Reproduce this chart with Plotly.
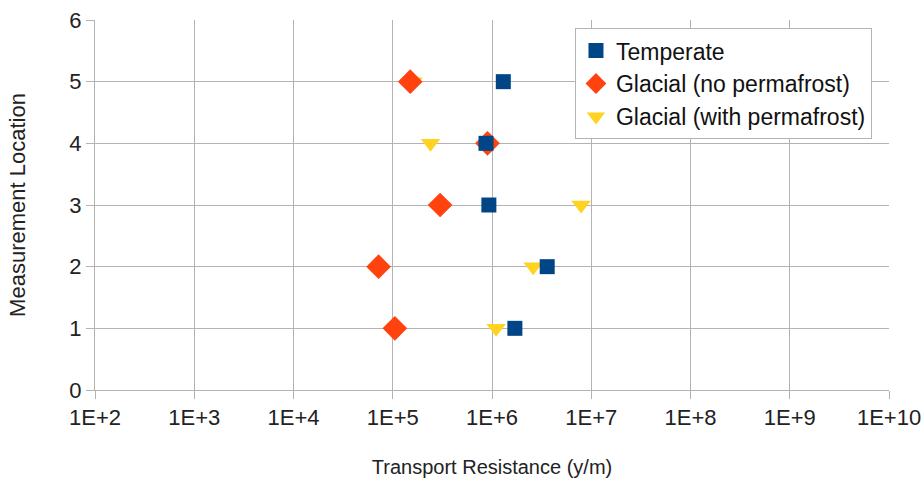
import plotly.graph_objects as go

locations = [1, 2, 3, 4, 5]
temperate = [1.7e6, 3.6e6, 9.3e5, 8.7e5, 1.3e6]
glacial_no_pf = [1.05e5, 7.2e4, 3.0e5, 9.0e5, 1.5e5]
glacial_with_pf = [1.1e6, 2.6e6, 7.9e6, 2.4e5, 1.6e5]
x_tickvals = [1e2, 1e3, 1e4, 1e5, 1e6, 1e7, 1e8, 1e9, 1e10]
x_ticktext = ["1E+2", "1E+3", "1E+4", "1E+5", "1E+6", "1E+7", "1E+8", "1E+9", "1E+10"]

font = "Liberation Sans, Arial, sans-serif"
grid = "#b3b3b3"
txt = "#222222"

fig = go.Figure()
fig.add_trace(go.Scatter(x=glacial_with_pf, y=locations, mode="markers",
                         name="Glacial (with permafrost)",
                         marker=dict(symbol="triangle-down", size=17, color="#ffd320")))
fig.add_trace(go.Scatter(x=glacial_no_pf, y=locations, mode="markers",
                         name="Glacial (no permafrost)",
                         marker=dict(symbol="diamond", size=19, color="#ff420e")))
fig.add_trace(go.Scatter(x=temperate, y=locations, mode="markers",
                         name="Temperate",
                         marker=dict(symbol="square", size=15, color="#004586")))

fig.update_layout(
    width=924, height=484,
    margin=dict(l=95, r=35, t=20, b=94, autoexpand=False),
    paper_bgcolor="white", plot_bgcolor="white",
    font=dict(family=font, size=20, color=txt),
    showlegend=True,
    legend=dict(x=0.6045, y=0.978, xanchor="left", yanchor="top",
                traceorder="reversed",
                bordercolor=grid, borderwidth=1, bgcolor="white",
                font=dict(size=23, color="#111111"),
                itemsizing="trace", itemwidth=30, tracegroupgap=0),
    xaxis=dict(type="log", range=[2, 10], tickvals=x_tickvals, ticktext=x_ticktext,
               tickfont=dict(size=22), automargin=False,
               showgrid=True, gridcolor=grid, gridwidth=1,
               showline=True, linecolor=grid, ticks="outside", ticklen=8, tickcolor=grid,
               zeroline=False,
               title=dict(text="Transport Resistance (y/m)", font=dict(size=20, color=txt),
                          standoff=30)),
    yaxis=dict(range=[0, 6], dtick=1, tick0=0,
               tickfont=dict(size=22), automargin=False,
               showgrid=True, gridcolor=grid, gridwidth=1,
               showline=True, linecolor=grid, ticks="outside", ticklen=8, tickcolor=grid,
               zeroline=False,
               title=dict(text="Measurement Location", font=dict(size=22, color=txt),
                          standoff=37)),
)

fig.write_html("out.html")
